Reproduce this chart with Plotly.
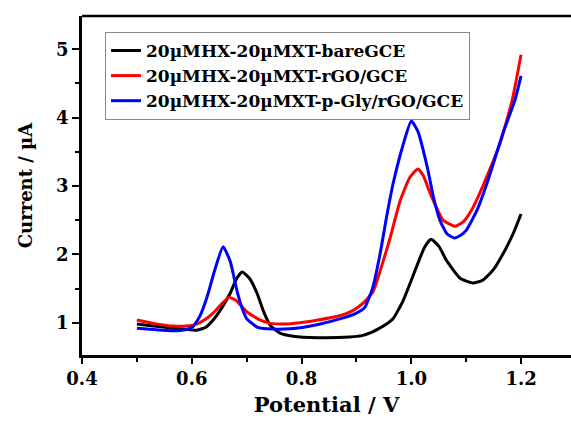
import plotly.graph_objects as go

# bare GCE (black)
v_bare = [0.50, 0.53, 0.566, 0.59, 0.609, 0.625, 0.639, 0.655, 0.67, 0.682, 0.692, 0.705, 0.719, 0.73, 0.743, 0.76, 0.785, 0.83, 0.888, 0.91, 0.925, 0.94, 0.955, 0.967, 0.985, 1.0, 1.024, 1.036, 1.05, 1.065, 1.089, 1.112, 1.13, 1.15, 1.17, 1.186, 1.2]
i_bare = [0.98, 0.95, 0.92, 0.90, 0.89, 0.93, 1.04, 1.22, 1.43, 1.65, 1.74, 1.65, 1.43, 1.18, 0.96, 0.85, 0.80, 0.78, 0.79, 0.81, 0.85, 0.91, 0.98, 1.06, 1.32, 1.62, 2.10, 2.22, 2.12, 1.90, 1.65, 1.58, 1.62, 1.78, 2.05, 2.31, 2.59]

# rGO/GCE (red)
v_rgo = [0.50, 0.53, 0.566, 0.59, 0.609, 0.625, 0.639, 0.655, 0.668, 0.68, 0.70, 0.724, 0.743, 0.77, 0.797, 0.83, 0.857, 0.88, 0.894, 0.91, 0.93, 0.943, 0.96, 0.98, 0.997, 1.012, 1.022, 1.034, 1.058, 1.08, 1.095, 1.11, 1.125, 1.145, 1.162, 1.184, 1.2]
i_rgo = [1.04, 0.99, 0.95, 0.95, 0.98, 1.05, 1.14, 1.28, 1.37, 1.33, 1.16, 1.04, 0.99, 0.98, 1.00, 1.04, 1.08, 1.13, 1.18, 1.27, 1.45, 1.75, 2.20, 2.79, 3.12, 3.25, 3.15, 2.90, 2.50, 2.41, 2.48, 2.65, 2.90, 3.28, 3.63, 4.26, 4.92]

# p-Gly/rGO/GCE (blue)
v_pgly = [0.50, 0.53, 0.566, 0.59, 0.602, 0.615, 0.628, 0.643, 0.657, 0.67, 0.682, 0.69, 0.70, 0.72, 0.737, 0.779, 0.828, 0.876, 0.90, 0.915, 0.93, 0.943, 0.955, 0.967, 0.985, 1.0, 1.012, 1.029, 1.04, 1.052, 1.065, 1.078, 1.09, 1.1, 1.12, 1.138, 1.167, 1.189, 1.2]
i_pgly = [0.92, 0.90, 0.88, 0.90, 0.94, 1.10, 1.38, 1.80, 2.11, 1.90, 1.48, 1.25, 1.06, 0.93, 0.91, 0.91, 0.97, 1.07, 1.14, 1.22, 1.52, 2.00, 2.55, 3.04, 3.60, 3.95, 3.80, 3.28, 2.85, 2.50, 2.30, 2.24, 2.28, 2.35, 2.65, 3.04, 3.77, 4.26, 4.61]

names = ["20µMHX-20µMXT-bareGCE", "20µMHX-20µMXT-rGO/GCE", "20µMHX-20µMXT-p-Gly/rGO/GCE"]
colors = ["#000000", "#ff0000", "#0000ff"]

x_ticks = [0.4, 0.6, 0.8, 1.0, 1.2]
y_ticks = [1, 2, 3, 4, 5]

FONT = "DejaVu Serif"

fig = go.Figure()
for v, i, n, c in zip([v_bare, v_rgo, v_pgly], [i_bare, i_rgo, i_pgly], names, colors):
    fig.add_trace(go.Scatter(x=v, y=i, mode="lines", name=n,
                             line=dict(color=c, width=3, shape="spline", smoothing=0.5)))

fig.update_layout(
    width=571, height=422,
    margin=dict(l=82, r=0, t=16, b=67),
    paper_bgcolor="white", plot_bgcolor="white",
    font=dict(family=FONT, color="black"),
    legend=dict(x=0.047, y=0.953, xanchor="left", yanchor="top",
                bordercolor="#888888", borderwidth=1, bgcolor="white",
                font=dict(family=FONT, size=17, color="black", weight="bold"),
                tracegroupgap=0, itemwidth=30),
    xaxis=dict(range=[0.4, 1.291], tickvals=x_ticks, ticktext=[f"{t:.1f}" for t in x_ticks],
               showgrid=False, zeroline=False, showline=True, linecolor="black", linewidth=2.5,
               ticks="outside", ticklen=6, tickwidth=2, tickcolor="black",
               minor=dict(dtick=0.1, tick0=0.4, ticks="outside", ticklen=4, tickwidth=2, tickcolor="black"),
               tickfont=dict(family=FONT, size=18, weight="bold"),
               title=dict(text="Potential / V", font=dict(family=FONT, size=21, weight="bold"), standoff=9)),
    yaxis=dict(range=[0.527, 5.487], tickvals=y_ticks, ticktext=[str(t) for t in y_ticks],
               showgrid=False, zeroline=False, showline=True, linecolor="black", linewidth=2.5,
               ticks="outside", ticklen=7, tickwidth=2, tickcolor="black",
               minor=dict(dtick=0.5, tick0=0.5, ticks="outside", ticklen=4, tickwidth=2, tickcolor="black"),
               tickfont=dict(family=FONT, size=18, weight="bold"),
               title=dict(text="Current / µA", font=dict(family=FONT, size=18, weight="bold"), standoff=19)),
    shapes=[dict(type="line", xref="paper", yref="paper", x0=0, x1=1, y0=1, y1=1,
                 line=dict(color="black", width=2.5))],
)

fig.write_html("out.html")
